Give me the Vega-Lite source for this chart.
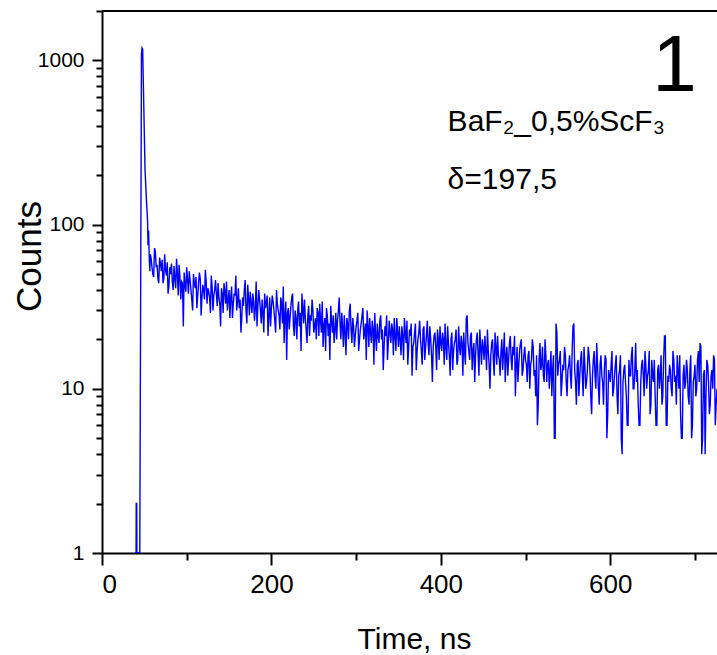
{
  "$schema": "https://vega.github.io/schema/vega-lite/v6.json",
  "width": 615,
  "height": 542,
  "autosize": "none",
  "padding": {"left": 102, "top": 11, "right": 0, "bottom": 102},
  "background": "white",
  "config": {"view": {"stroke": null}, "axis": {"grid": false, "labelColor": "black", "titleColor": "black", "domainColor": "black", "tickColor": "black", "zindex": 1}},
  "datasets": {
    "d": [
      {"t":39,"c":1},{"t":40.2,"c":1},{"t":40.4,"c":2},{"t":41.0,"c":2},{"t":41.2,"c":1},{"t":44.6,"c":1},{"t":46.6,"c":1100},{"t":47.3,"c":1190},{"t":48,"c":1170},{"t":49,"c":650},{"t":50.8,"c":216},{"t":52.5,"c":140},{"t":53.8,"c":105},{"t":54.3,"c":75},{"t":55,"c":92},{"t":55.8,"c":62},{"t":56.5,"c":52},
      {"t":58,"c":62},{"t":60,"c":50},{"t":62,"c":72},{"t":64,"c":55},{"t":66,"c":47},{"t":68,"c":63},{"t":70,"c":52},{"t":72,"c":44},{"t":74,"c":66},{"t":76,"c":49},{"t":78,"c":38},{"t":80,"c":55},{"t":82,"c":58},{"t":84,"c":40},{"t":86,"c":47},{"t":88,"c":62},{"t":90,"c":37},{"t":92,"c":48},{"t":94,"c":45},{"t":96,"c":24},{"t":98,"c":43},{"t":100,"c":55},
      {"t":102,"c":38},{"t":104,"c":46},{"t":106,"c":35},{"t":108,"c":50},{"t":110,"c":41},{"t":112,"c":31},{"t":114,"c":44},{"t":116,"c":47},{"t":118,"c":36},{"t":120,"c":40},{"t":122,"c":53},{"t":124,"c":33},{"t":126,"c":39},{"t":128,"c":29},{"t":130,"c":42},{"t":132,"c":37},{"t":134,"c":46},{"t":136,"c":32},{"t":138,"c":36},{"t":140,"c":24},
      {"t":142,"c":38},{"t":144,"c":44},{"t":146,"c":33},{"t":148,"c":30},{"t":150,"c":40},{"t":152,"c":36},{"t":154,"c":27},{"t":156,"c":38},{"t":158,"c":49},{"t":160,"c":34},{"t":162,"c":31},{"t":164,"c":22},{"t":166,"c":36},{"t":168,"c":40},{"t":170,"c":30},{"t":172,"c":43},{"t":174,"c":28},{"t":176,"c":33},{"t":178,"c":38},{"t":180,"c":26},{"t":182,"c":45},{"t":184,"c":32},{"t":186,"c":35},{"t":188,"c":25},{"t":190,"c":29},{"t":192,"c":38},{"t":194,"c":33},{"t":196,"c":21},{"t":198,"c":36},{"t":200,"c":31},
      {"t":202,"c":34},{"t":204,"c":26},{"t":206,"c":40},{"t":208,"c":30},{"t":210,"c":23},{"t":212,"c":33},{"t":214,"c":42},{"t":216,"c":28},{"t":218,"c":15},{"t":220,"c":31},{"t":222,"c":27},{"t":224,"c":36},{"t":226,"c":24},{"t":228,"c":30},{"t":230,"c":20},{"t":232,"c":34},{"t":234,"c":29},{"t":236,"c":38},{"t":238,"c":25},{"t":240,"c":27},{"t":242,"c":19},{"t":244,"c":32},{"t":246,"c":28},{"t":248,"c":35},{"t":250,"c":22},
      {"t":252,"c":27},{"t":254,"c":31},{"t":256,"c":21},{"t":258,"c":26},{"t":260,"c":34},{"t":262,"c":24},{"t":264,"c":17},{"t":266,"c":28},{"t":268,"c":25},{"t":270,"c":32},{"t":272,"c":22},{"t":274,"c":19},{"t":276,"c":29},{"t":278,"c":26},{"t":280,"c":36},{"t":282,"c":20},{"t":284,"c":24},{"t":286,"c":28},{"t":288,"c":16},{"t":290,"c":25},{"t":292,"c":30},{"t":294,"c":23},{"t":296,"c":27},{"t":298,"c":18},{"t":300,"c":24},
      {"t":302,"c":29},{"t":304,"c":20},{"t":306,"c":25},{"t":308,"c":31},{"t":310,"c":22},{"t":312,"c":15},{"t":314,"c":24},{"t":316,"c":27},{"t":318,"c":19},{"t":320,"c":23},{"t":322,"c":29},{"t":324,"c":17},{"t":326,"c":21},{"t":328,"c":26},{"t":330,"c":20},{"t":332,"c":13},{"t":334,"c":24},{"t":336,"c":28},{"t":338,"c":19},{"t":340,"c":22},{"t":342,"c":25},{"t":344,"c":16},{"t":346,"c":21},{"t":348,"c":27},{"t":350,"c":18},
      {"t":352,"c":20},{"t":354,"c":24},{"t":356,"c":15},{"t":358,"c":22},{"t":360,"c":26},{"t":362,"c":18},{"t":364,"c":21},{"t":366,"c":12},{"t":368,"c":19},{"t":370,"c":25},{"t":372,"c":17},{"t":374,"c":22},{"t":376,"c":20},{"t":378,"c":14},{"t":380,"c":24},{"t":382,"c":18},{"t":384,"c":26},{"t":386,"c":16},{"t":388,"c":20},{"t":390,"c":11},{"t":392,"c":21},{"t":394,"c":18},{"t":396,"c":23},{"t":398,"c":15},{"t":400,"c":19},
      {"t":402,"c":22},{"t":404,"c":14},{"t":406,"c":18},{"t":408,"c":24},{"t":410,"c":16},{"t":412,"c":20},{"t":414,"c":13},{"t":416,"c":19},{"t":418,"c":23},{"t":420,"c":15},{"t":422,"c":18},{"t":424,"c":21},{"t":426,"c":12},{"t":428,"c":17},{"t":430,"c":27},{"t":432,"c":19},{"t":434,"c":15},{"t":436,"c":22},{"t":438,"c":17},{"t":440,"c":11},{"t":442,"c":20},{"t":444,"c":16},{"t":446,"c":23},{"t":448,"c":14},{"t":450,"c":18},
      {"t":452,"c":21},{"t":454,"c":13},{"t":456,"c":17},{"t":458,"c":10},{"t":460,"c":19},{"t":462,"c":15},{"t":464,"c":22},{"t":466,"c":14},{"t":468,"c":16},{"t":470,"c":12},{"t":472,"c":20},{"t":474,"c":17},{"t":476,"c":11},{"t":478,"c":18},{"t":480,"c":15},{"t":482,"c":21},{"t":484,"c":13},{"t":486,"c":16},{"t":488,"c":9},{"t":490,"c":18},{"t":492,"c":14},{"t":494,"c":19},{"t":496,"c":12},{"t":498,"c":16},{"t":500,"c":15},
      {"t":502,"c":11},{"t":504,"c":17},{"t":506,"c":14},{"t":508,"c":20},{"t":510,"c":12},{"t":512,"c":9},{"t":514,"c":6},{"t":516,"c":15},{"t":518,"c":13},{"t":520,"c":18},{"t":522,"c":11},{"t":524,"c":16},{"t":526,"c":14},{"t":528,"c":10},{"t":530,"c":17},{"t":532,"c":13},{"t":534,"c":5},{"t":536,"c":25},{"t":538,"c":12},{"t":540,"c":15},{"t":542,"c":9},{"t":544,"c":14},{"t":546,"c":18},{"t":548,"c":11},{"t":550,"c":13},
      {"t":552,"c":16},{"t":554,"c":10},{"t":556,"c":24},{"t":558,"c":13},{"t":560,"c":8},{"t":562,"c":15},{"t":564,"c":12},{"t":566,"c":17},{"t":568,"c":9},{"t":570,"c":14},{"t":572,"c":11},{"t":574,"c":18},{"t":576,"c":13},{"t":578,"c":7},{"t":580,"c":15},{"t":582,"c":12},{"t":584,"c":19},{"t":586,"c":10},{"t":588,"c":14},{"t":590,"c":12},{"t":592,"c":8},{"t":594,"c":16},{"t":596,"c":5},{"t":598,"c":13},{"t":600,"c":11},
      {"t":602,"c":17},{"t":604,"c":10},{"t":606,"c":14},{"t":608,"c":9},{"t":610,"c":12},{"t":612,"c":16},{"t":614,"c":4},{"t":616,"c":13},{"t":618,"c":11},{"t":620,"c":6},{"t":622,"c":15},{"t":624,"c":12},{"t":626,"c":18},{"t":628,"c":10},{"t":630,"c":19},{"t":632,"c":13},{"t":634,"c":6},{"t":636,"c":11},{"t":638,"c":15},{"t":640,"c":9},{"t":642,"c":14},{"t":644,"c":12},{"t":646,"c":17},{"t":648,"c":8},{"t":650,"c":12},
      {"t":652,"c":15},{"t":654,"c":6},{"t":656,"c":13},{"t":658,"c":10},{"t":660,"c":16},{"t":662,"c":9},{"t":664,"c":21},{"t":666,"c":6},{"t":668,"c":12},{"t":670,"c":14},{"t":672,"c":10},{"t":674,"c":17},{"t":676,"c":11},{"t":678,"c":8},{"t":680,"c":13},{"t":682,"c":16},{"t":684,"c":5},{"t":686,"c":12},{"t":688,"c":10},{"t":690,"c":15},{"t":692,"c":9},{"t":694,"c":13},{"t":696,"c":5},{"t":698,"c":11},{"t":700,"c":14},{"t":702,"c":10},{"t":704,"c":17},{"t":706,"c":19},{"t":708,"c":4},{"t":710,"c":12},{"t":712,"c":4},{"t":714,"c":15},{"t":716,"c":11},{"t":718,"c":8},{"t":720,"c":13},{"t":722,"c":16},{"t":724,"c":6},{"t":726,"c":10},
      {"t":57,"c":66},{"t":59,"c":55},{"t":61,"c":48},{"t":63,"c":68},{"t":65,"c":57},{"t":67,"c":44},{"t":69,"c":58},{"t":71,"c":61},{"t":73,"c":47},{"t":75,"c":53},{"t":77,"c":59},{"t":79,"c":42},{"t":81,"c":50},{"t":83,"c":45},{"t":85,"c":56},{"t":87,"c":41},{"t":89,"c":50},{"t":91,"c":57},{"t":93,"c":35},{"t":95,"c":44},{"t":97,"c":51},{"t":99,"c":39},
      {"t":101,"c":46},{"t":103,"c":52},{"t":105,"c":40},{"t":107,"c":30},{"t":109,"c":44},{"t":111,"c":48},{"t":113,"c":37},{"t":115,"c":51},{"t":117,"c":28},{"t":119,"c":43},{"t":121,"c":35},{"t":123,"c":45},{"t":125,"c":41},{"t":127,"c":36},{"t":129,"c":49},{"t":131,"c":30},{"t":133,"c":40},{"t":135,"c":38},{"t":137,"c":44},{"t":139,"c":33},
      {"t":141,"c":41},{"t":143,"c":29},{"t":145,"c":39},{"t":147,"c":45},{"t":149,"c":35},{"t":151,"c":27},{"t":153,"c":42},{"t":155,"c":33},{"t":157,"c":37},{"t":159,"c":30},{"t":161,"c":41},{"t":163,"c":35},{"t":165,"c":27},{"t":167,"c":32},{"t":169,"c":46},{"t":171,"c":25},{"t":173,"c":36},{"t":175,"c":39},{"t":177,"c":29},{"t":179,"c":34},
      {"t":181,"c":31},{"t":183,"c":24},{"t":185,"c":40},{"t":187,"c":30},{"t":189,"c":35},{"t":191,"c":22},{"t":193,"c":31},{"t":195,"c":37},{"t":197,"c":28},{"t":199,"c":24},{"t":201,"c":37},{"t":203,"c":30},{"t":205,"c":22},{"t":207,"c":33},{"t":209,"c":28},{"t":211,"c":36},{"t":213,"c":25},{"t":215,"c":19},{"t":217,"c":34},{"t":219,"c":29},
      {"t":221,"c":23},{"t":223,"c":32},{"t":225,"c":38},{"t":227,"c":21},{"t":229,"c":27},{"t":231,"c":30},{"t":233,"c":24},{"t":235,"c":17},{"t":237,"c":31},{"t":239,"c":35},{"t":241,"c":23},{"t":243,"c":28},{"t":245,"c":21},{"t":247,"c":26},{"t":249,"c":30},{"t":251,"c":24},{"t":253,"c":20},{"t":255,"c":29},{"t":257,"c":33},{"t":259,"c":22},
      {"t":261,"c":18},{"t":263,"c":27},{"t":265,"c":31},{"t":267,"c":21},{"t":269,"c":15},{"t":271,"c":26},{"t":273,"c":28},{"t":275,"c":23},{"t":277,"c":20},{"t":279,"c":30},{"t":281,"c":25},{"t":283,"c":29},{"t":285,"c":18},{"t":287,"c":22},{"t":289,"c":27},{"t":291,"c":20},{"t":293,"c":33},{"t":295,"c":19},{"t":297,"c":24},{"t":299,"c":21},
      {"t":301,"c":26},{"t":303,"c":17},{"t":305,"c":23},{"t":307,"c":28},{"t":309,"c":20},{"t":311,"c":25},{"t":313,"c":30},{"t":315,"c":18},{"t":317,"c":22},{"t":319,"c":26},{"t":321,"c":14},{"t":323,"c":21},{"t":325,"c":25},{"t":327,"c":19},{"t":329,"c":28},{"t":331,"c":23},{"t":333,"c":18},{"t":335,"c":21},{"t":337,"c":15},{"t":339,"c":26},
      {"t":341,"c":19},{"t":343,"c":23},{"t":345,"c":27},{"t":347,"c":17},{"t":349,"c":22},{"t":351,"c":24},{"t":353,"c":16},{"t":355,"c":21},{"t":357,"c":27},{"t":359,"c":19},{"t":361,"c":14},{"t":363,"c":23},{"t":365,"c":25},{"t":367,"c":18},{"t":369,"c":22},{"t":371,"c":13},{"t":373,"c":20},{"t":375,"c":26},{"t":377,"c":17},{"t":379,"c":23},
      {"t":381,"c":15},{"t":383,"c":21},{"t":385,"c":19},{"t":387,"c":24},{"t":389,"c":16},{"t":391,"c":18},{"t":393,"c":22},{"t":395,"c":13},{"t":397,"c":20},{"t":399,"c":24},{"t":401,"c":17},{"t":403,"c":20},{"t":405,"c":25},{"t":407,"c":15},{"t":409,"c":19},{"t":411,"c":12},{"t":413,"c":22},{"t":415,"c":17},{"t":417,"c":20},{"t":419,"c":14},
      {"t":421,"c":24},{"t":423,"c":16},{"t":425,"c":19},{"t":427,"c":22},{"t":429,"c":14},{"t":431,"c":28},{"t":433,"c":17},{"t":435,"c":21},{"t":437,"c":13},{"t":439,"c":19},{"t":441,"c":16},{"t":443,"c":22},{"t":445,"c":12},{"t":447,"c":18},{"t":449,"c":20},{"t":451,"c":15},{"t":453,"c":17},{"t":455,"c":23},{"t":457,"c":14},{"t":459,"c":16},
      {"t":461,"c":20},{"t":463,"c":12},{"t":465,"c":18},{"t":467,"c":21},{"t":469,"c":15},{"t":471,"c":17},{"t":473,"c":13},{"t":475,"c":22},{"t":477,"c":16},{"t":479,"c":12},{"t":481,"c":19},{"t":483,"c":15},{"t":485,"c":18},{"t":487,"c":21},{"t":489,"c":14},{"t":491,"c":11},{"t":493,"c":17},{"t":495,"c":20},{"t":497,"c":13},{"t":499,"c":18},
      {"t":501,"c":14},{"t":503,"c":16},{"t":505,"c":10},{"t":507,"c":15},{"t":509,"c":18},{"t":511,"c":13},{"t":513,"c":16},{"t":515,"c":8},{"t":517,"c":19},{"t":519,"c":14},{"t":521,"c":12},{"t":523,"c":20},{"t":525,"c":11},{"t":527,"c":15},{"t":529,"c":13},{"t":531,"c":9},{"t":533,"c":16},{"t":535,"c":5},{"t":537,"c":22},{"t":539,"c":14},
      {"t":541,"c":17},{"t":543,"c":11},{"t":545,"c":13},{"t":547,"c":16},{"t":549,"c":9},{"t":551,"c":14},{"t":553,"c":12},{"t":555,"c":17},{"t":557,"c":25},{"t":559,"c":11},{"t":561,"c":14},{"t":563,"c":9},{"t":565,"c":15},{"t":567,"c":12},{"t":569,"c":18},{"t":571,"c":10},{"t":573,"c":13},{"t":575,"c":16},{"t":577,"c":9},{"t":579,"c":12},
      {"t":581,"c":17},{"t":583,"c":10},{"t":585,"c":14},{"t":587,"c":8},{"t":589,"c":16},{"t":591,"c":11},{"t":593,"c":13},{"t":595,"c":15},{"t":597,"c":7},{"t":599,"c":12},{"t":601,"c":14},{"t":603,"c":9},{"t":605,"c":12},{"t":607,"c":16},{"t":609,"c":7},{"t":611,"c":13},{"t":613,"c":5},{"t":615,"c":11},{"t":617,"c":14},{"t":619,"c":9},
      {"t":621,"c":6},{"t":623,"c":12},{"t":625,"c":16},{"t":627,"c":10},{"t":629,"c":13},{"t":631,"c":11},{"t":633,"c":8},{"t":635,"c":6},{"t":637,"c":14},{"t":639,"c":12},{"t":641,"c":17},{"t":643,"c":10},{"t":645,"c":13},{"t":647,"c":7},{"t":649,"c":15},{"t":651,"c":11},{"t":653,"c":9},{"t":655,"c":6},{"t":657,"c":14},{"t":659,"c":12},
      {"t":661,"c":8},{"t":663,"c":15},{"t":665,"c":21},{"t":667,"c":6},{"t":669,"c":11},{"t":671,"c":13},{"t":673,"c":9},{"t":675,"c":15},{"t":677,"c":12},{"t":679,"c":16},{"t":681,"c":10},{"t":683,"c":7},{"t":685,"c":5},{"t":687,"c":14},{"t":689,"c":11},{"t":691,"c":13},{"t":693,"c":8},{"t":695,"c":16},{"t":697,"c":6},{"t":699,"c":12},
      {"t":701,"c":9},{"t":703,"c":15},{"t":705,"c":11},{"t":707,"c":18},{"t":709,"c":5},{"t":711,"c":13},{"t":713,"c":9},{"t":715,"c":14},{"t":717,"c":7},{"t":719,"c":12},{"t":721,"c":10},{"t":723,"c":15},{"t":725,"c":8}
    ]
  },
  "layer": [
    {
      "data": {"name": "d"},
      "mark": {"type": "line", "color": "#0000ff", "strokeWidth": 1.4, "clip": true},
      "encoding": {
        "x": {"field": "t", "type": "quantitative", "scale": {"domain": [0, 726], "nice": false, "zero": false},
          "axis": {"orient": "bottom", "values": [0,100,200,300,400,500,600,700],
            "labelExpr": "datum.value % 200 == 0 ? format(datum.value, 'd') : ''",
            "domainWidth": 2,
            "tickWidth": 2,
            "tickSize": {"condition": {"test": "datum.value % 200 == 0", "value": 12}, "value": 7},
            "labelPadding": 6,
            "labelFont": "Liberation Sans", "labelFontSize": 26,
            "title": "Time, ns", "titleFont": "Liberation Sans", "titleFontSize": 30, "titleFontWeight": "normal",
            "titleX": 312, "titleY": 95, "titleBaseline": "alphabetic", "titleAlign": "center"}},
        "y": {"field": "c", "type": "quantitative", "scale": {"type": "log", "domain": [1, 2000], "nice": false},
          "axis": {"orient": "left", "values": [1,2,3,4,5,6,7,8,9,10,20,30,40,50,60,70,80,90,100,200,300,400,500,600,700,800,900,1000,2000],
            "labelExpr": "(datum.value == 1 || datum.value == 10 || datum.value == 100 || datum.value == 1000) ? format(datum.value, 'd') : ''",
            "domainWidth": 2,
            "tickWidth": 2,
            "tickSize": {"condition": {"test": "datum.value == 1 || datum.value == 10 || datum.value == 100 || datum.value == 1000", "value": 10}, "value": 6},
            "labelPadding": 8,
            "labelFont": "Liberation Sans", "labelFontSize": 21,
            "title": "Counts", "titleFont": "Liberation Sans", "titleFontSize": 35, "titleFontWeight": "normal",
            "titleX": -62, "titleY": 245, "titleBaseline": "alphabetic", "titleAlign": "center", "titleAngle": 270}}
      }
    },
    {
      "data": {"values": [{}]},
      "mark": {"type": "rule", "color": "black", "strokeWidth": 2, "clip": false},
      "encoding": {
        "y": {"datum": 2000, "type": "quantitative"}
      }
    },
    {
      "data": {"values": [{}]},
      "mark": {"type": "text", "text": "1", "font": "Liberation Sans", "fontSize": 80, "align": "right", "baseline": "alphabetic", "color": "black"},
      "encoding": {
        "x": {"datum": 702, "type": "quantitative"},
        "y": {"datum": 647, "type": "quantitative"}
      }
    },
    {
      "data": {"values": [{}]},
      "mark": {"type": "text", "text": ["BaF₂_0,5%ScF₃", "δ=197,5"], "font": "Liberation Sans", "fontSize": 30, "lineHeight": 58, "align": "left", "baseline": "alphabetic", "color": "black"},
      "encoding": {
        "x": {"datum": 408, "type": "quantitative"},
        "y": {"datum": 370, "type": "quantitative"}
      }
    }
  ]
}
